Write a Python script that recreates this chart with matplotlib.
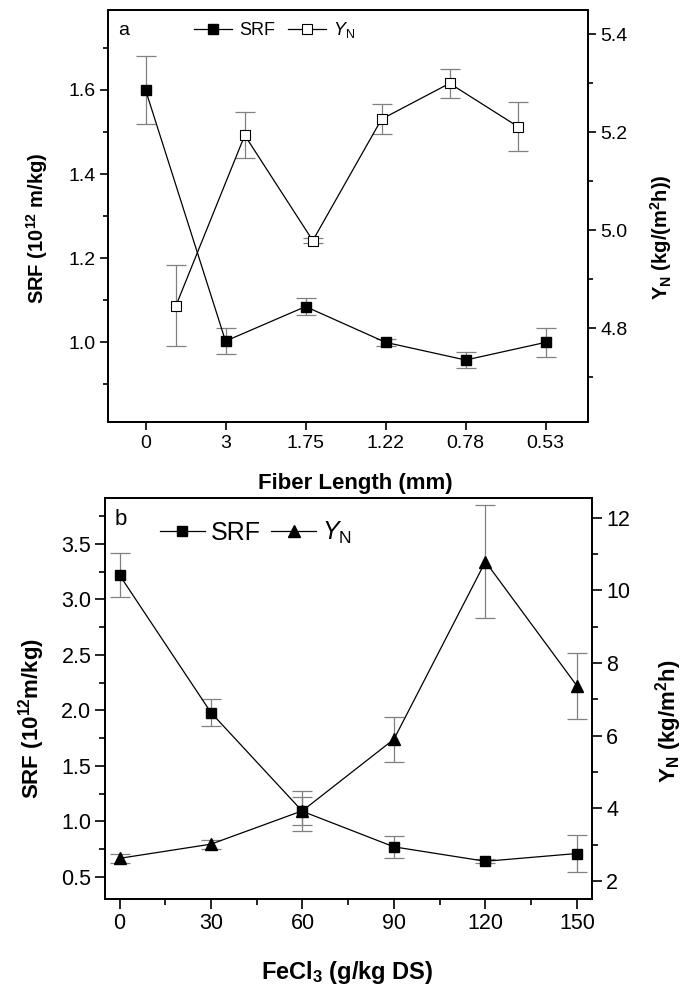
import matplotlib
matplotlib.use("Agg")
import matplotlib.pyplot as plt
from matplotlib.ticker import MultipleLocator, FixedLocator, FormatStrFormatter

plt.rcParams['font.family'] = ['Liberation Sans', 'DejaVu Sans']
plt.rcParams['mathtext.fontset'] = 'custom'
plt.rcParams['mathtext.rm'] = 'Liberation Sans'
plt.rcParams['mathtext.it'] = 'Liberation Sans:italic'
plt.rcParams['mathtext.bf'] = 'Liberation Sans:bold'

# panel a: fiber length
fiber_labels = ["0", "3", "1.75", "1.22", "0.78", "0.53"]
fiber_pos = [0, 1, 2, 3, 4, 5]
srf_a = [1.60, 1.003, 1.085, 1.00, 0.958, 1.00]
srf_a_err = [0.08, 0.03, 0.02, 0.008, 0.02, 0.035]
yn_a_pos = [0.38, 1.24, 2.09, 2.95, 3.80, 4.66]
yn_a = [4.846, 5.194, 4.979, 5.227, 5.300, 5.211]
yn_a_err = [0.083, 0.047, 0.005, 0.03, 0.03, 0.05]

# panel b: FeCl3 dose
fecl3 = [0, 30, 60, 90, 120, 150]
srf_b = [3.22, 1.98, 1.09, 0.77, 0.64, 0.71]
srf_b_err = [0.20, 0.12, 0.18, 0.10, 0.02, 0.17]
yn_b = [2.62, 3.01, 3.93, 5.90, 10.79, 7.37]
yn_b_err = [0.12, 0.12, 0.39, 0.62, 1.55, 0.90]

ERR = '#808080'

fig = plt.figure(figsize=(6.83, 9.89), dpi=100)


def style_axes(ax, tsize, major, minor):
    for s in ax.spines.values():
        s.set_linewidth(1.3)
    ax.tick_params(which='major', direction='out', length=major, width=1.2,
                   labelsize=tsize, pad=3)
    ax.tick_params(which='minor', direction='out', length=minor, width=1.2)
    ax.tick_params(top=False, which='both')


# ---------- panel a ----------
ax1 = fig.add_axes([0.158, 0.573, 0.703, 0.417])
ax2 = ax1.twinx()

ax1.errorbar(fiber_pos, srf_a, yerr=srf_a_err, fmt='none', ecolor=ERR,
             elinewidth=0.9, capsize=7, capthick=0.9, zorder=2)
l1, = ax1.plot(fiber_pos, srf_a, '-s', color='black', lw=0.9, ms=7,
               mfc='black', mec='black', zorder=3, label='SRF')
ax2.errorbar(yn_a_pos, yn_a, yerr=yn_a_err, fmt='none', ecolor=ERR,
             elinewidth=0.9, capsize=7, capthick=0.9, zorder=2)
l2, = ax2.plot(yn_a_pos, yn_a, '-s', color='black', lw=0.9, ms=7,
               mfc='white', mec='black', mew=0.8, zorder=3,
               label='$Y_{\\mathrm{N}}$')

ax1.set_xlim(-0.47, 5.53)
ax1.set_xticks(fiber_pos)
ax1.set_xticklabels(fiber_labels)
ax1.set_ylim(0.81, 1.79)
ax1.yaxis.set_major_locator(FixedLocator([1.0, 1.2, 1.4, 1.6]))
ax1.yaxis.set_minor_locator(MultipleLocator(0.1))
ax1.yaxis.set_major_formatter(FormatStrFormatter('%.1f'))
ax2.set_ylim(4.608, 5.45)
ax2.yaxis.set_major_locator(FixedLocator([4.8, 5.0, 5.2, 5.4]))
ax2.yaxis.set_minor_locator(MultipleLocator(0.1))
ax2.yaxis.set_major_formatter(FormatStrFormatter('%.1f'))
style_axes(ax1, 14, 6, 3.5)
style_axes(ax2, 14, 6, 3.5)

ax1.set_xlabel('Fiber Length (mm)', fontsize=16, fontweight='bold')
ax1.xaxis.set_label_coords(0.515, -0.122)
ax1.set_ylabel('SRF (10$^{\\mathbf{12}}$ m/kg)', fontsize=14.5,
               fontweight='bold')
ax1.yaxis.set_label_coords(-0.12, 0.47)
ax2.set_ylabel('Y$_{\\mathbf{N}}$ (kg/(m$^{\\mathbf{2}}$h))', fontsize=14.5,
               fontweight='bold')
ax2.yaxis.set_label_coords(1.125, 0.45)

ax1.text(0.022, 0.951, 'a', transform=ax1.transAxes, fontsize=14,
         va='center', ha='left')
ax1.legend(handles=[l1, l2], loc='center left', bbox_to_anchor=(0.165, 0.951),
           ncol=2, frameon=False, fontsize=13, handlelength=2.1,
           handletextpad=0.4, columnspacing=0.7, borderaxespad=0)

# ---------- panel b ----------
ax3 = fig.add_axes([0.154, 0.091, 0.713, 0.405])
ax4 = ax3.twinx()

ax3.errorbar(fecl3, srf_b, yerr=srf_b_err, fmt='none', ecolor=ERR,
             elinewidth=0.9, capsize=7, capthick=0.9, zorder=2)
l3, = ax3.plot(fecl3, srf_b, '-s', color='black', lw=0.9, ms=7,
               zorder=3, label='SRF')
ax4.errorbar(fecl3, yn_b, yerr=yn_b_err, fmt='none', ecolor=ERR,
             elinewidth=0.9, capsize=7, capthick=0.9, zorder=2)
l4, = ax4.plot(fecl3, yn_b, '-^', color='black', lw=0.9, ms=8.5,
               zorder=3, label='$Y_{\\mathrm{N}}$')

ax3.set_xlim(-4.7, 155)
ax3.xaxis.set_major_locator(MultipleLocator(30))
ax3.xaxis.set_minor_locator(MultipleLocator(15))
ax3.set_ylim(0.30, 3.91)
ax3.yaxis.set_major_locator(MultipleLocator(0.5))
ax3.yaxis.set_minor_locator(MultipleLocator(0.25))
ax3.yaxis.set_major_formatter(FormatStrFormatter('%.1f'))
ax4.set_ylim(1.50, 12.53)
ax4.yaxis.set_major_locator(MultipleLocator(2))
ax4.yaxis.set_minor_locator(MultipleLocator(1))
style_axes(ax3, 15.5, 7, 4)
style_axes(ax4, 15.5, 7, 4)

ax3.set_xlabel('FeCl$_{\\mathbf{3}}$ (g/kg DS)', fontsize=17, fontweight='bold')
ax3.xaxis.set_label_coords(0.497, -0.15)
ax3.set_ylabel('SRF (10$^{\\mathbf{12}}$m/kg)', fontsize=16, fontweight='bold')
ax3.yaxis.set_label_coords(-0.12, 0.45)
ax4.set_ylabel('Y$_{\\mathbf{N}}$ (kg/m$^{\\mathbf{2}}$h)', fontsize=16,
               fontweight='bold')
ax4.yaxis.set_label_coords(1.125, 0.445)

ax3.text(0.02, 0.948, 'b', transform=ax3.transAxes, fontsize=16,
         va='center', ha='left')
ax3.legend(handles=[l3, l4], loc='center left', bbox_to_anchor=(0.092, 0.913),
           ncol=2, frameon=False, fontsize=18, handlelength=1.8,
           handletextpad=0.25, columnspacing=0.4, borderaxespad=0)

fig.savefig('out.png', dpi=100)
